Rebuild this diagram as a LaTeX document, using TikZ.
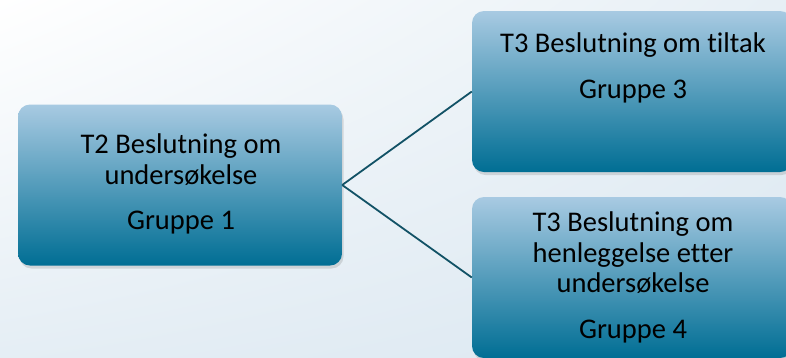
\documentclass[tikz,border=0pt]{standalone}
\usepackage{fontspec}
\setmainfont{Carlito}[Ligatures=NoCommon]
\usetikzlibrary{shadows,shadings}
\definecolor{bg}{RGB}{220, 232, 241}
\definecolor{lys}{RGB}{168, 202, 226}
\definecolor{mid}{RGB}{105, 165, 200}
\definecolor{mork}{RGB}{0, 110, 148}
\definecolor{linje}{RGB}{18, 82, 102}

\begin{document}
\begin{tikzpicture}[x=1pt, y=-1pt,
		boks/.style={rounded corners=12pt, minimum width=#1, minimum height=161pt,
			top color=lys, middle color=mid, bottom color=mork, inner sep=0pt,
			drop shadow={opacity=0.25, shadow xshift=1.5pt, shadow yshift=-3pt}},
		tekst/.style={anchor=north, align=center, inner sep=0pt,
			font=\fontsize{28.5}{30.5}\selectfont},
		kant/.style={draw=linje, line width=1.8pt}]
	\useasboundingbox (0,0) rectangle (786,357);
	\clip (0,0) rectangle (786,357);
	\shade[upper left=white, upper right=bg!70!white, lower left=bg!75!white, lower right=bg]
		(0,0) rectangle (786,357);
	% boksene
	\node[boks=324pt] (t2) at (180,185) {};
	\node[boks=320pt] (t3a) at (632,91.5) {};
	\node[boks=320pt] (t3b) at (632,277.5) {};
	\node[tekst] (t2tekst) at (181,134) {T2 Beslutning om\\undersøkelse\\[15pt]Gruppe 1};
	\node[tekst] (t3atekst) at (633,33) {T3 Beslutning om tiltak\\[15pt]Gruppe 3};
	\node[tekst] (t3btekst) at (633,212) {T3 Beslutning om\\henleggelse etter\\undersøkelse\\[15pt]Gruppe 4};
	\draw[kant] (t2.east) -- (t3a.west);
	\draw[kant] (t2.east) -- (t3b.west);
\end{tikzpicture}
\end{document}
